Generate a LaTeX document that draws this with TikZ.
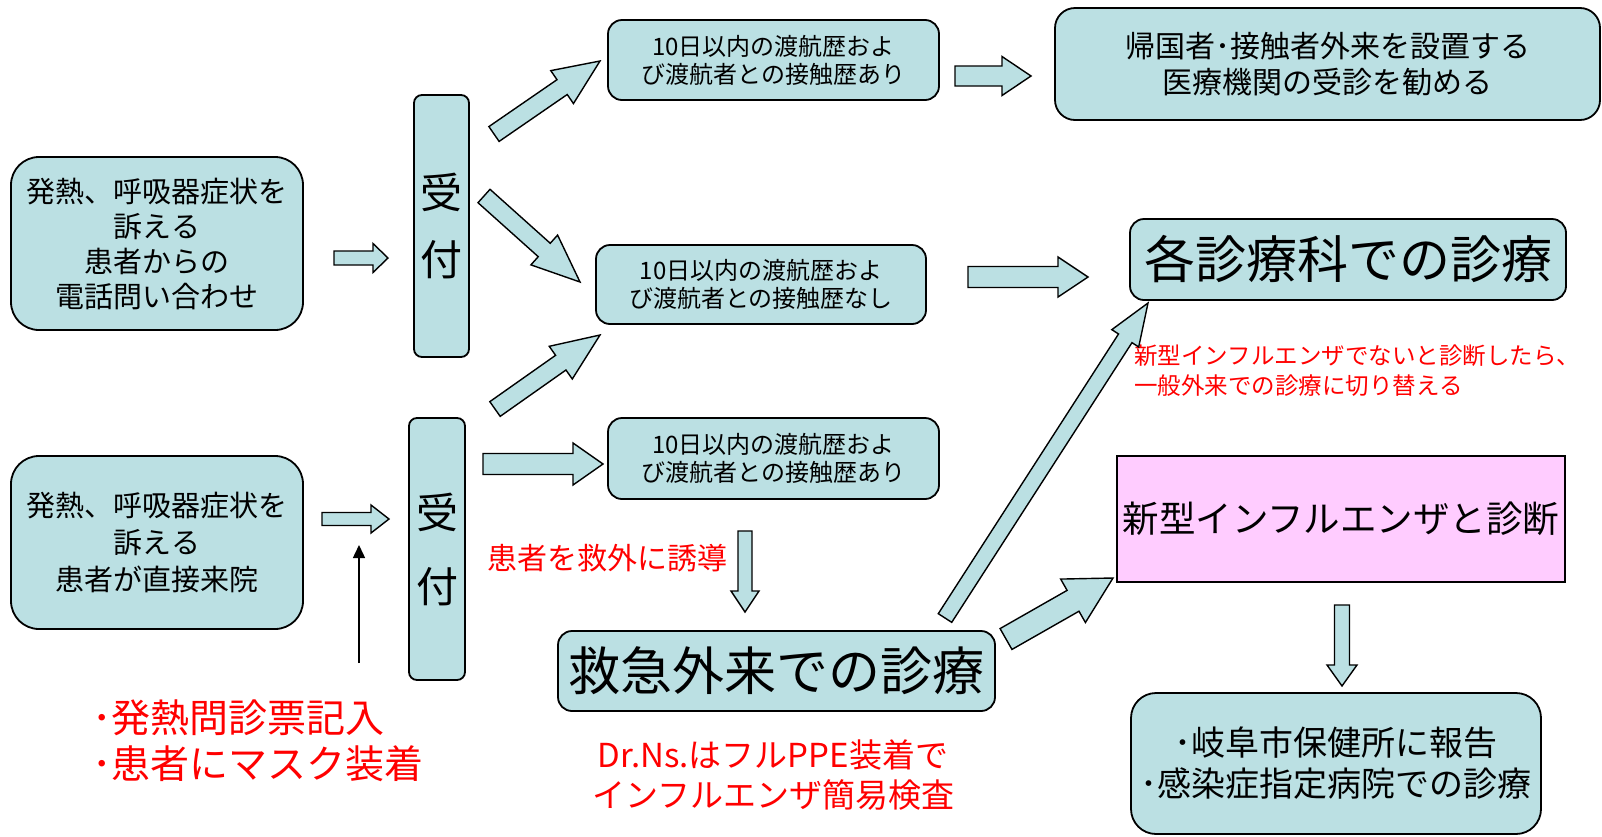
\documentclass[tikz,border=0pt]{standalone}
\usepackage{fontspec}
\setmainfont{Noto Sans CJK JP}
\usetikzlibrary{calc,arrows.meta}
\definecolor{boxblue}{RGB}{187,224,227}
\definecolor{boxpink}{RGB}{255,204,255}
\definecolor{redtxt}{RGB}{255,0,0}
\newcommand\blkarrow[5]{%
  \coordinate (ba-h) at ($(#2)!#5!(#1)$);
  \draw[blk] ($(#1)!#3!90:(#2)$) -- ($(ba-h)!#3!90:(#2)$) -- ($(ba-h)!#4!90:(#2)$) -- (#2) -- ($(ba-h)!#4!-90:(#2)$) -- ($(ba-h)!#3!-90:(#2)$) -- ($(#1)!#3!-90:(#2)$) -- cycle;}
\begin{document}
\begin{tikzpicture}[x=1pt,y=-1pt,
  box/.style={draw=black, line width=1.8pt, fill=boxblue, rounded corners=#1, inner sep=0pt, align=center, text=black},
  box/.default=14pt,
  blk/.style={draw=black, line width=1.4pt, fill=boxblue, line join=miter},
  redlabel/.style={text=redtxt, inner sep=0pt}]
\useasboundingbox (0,0) rectangle (1602,836);

% boxes
\node[box=28pt, minimum width=292pt, minimum height=173pt, font=\fontsize{29}{35}\selectfont] (A) at (157,243.5) {発熱、呼吸器症状を\\訴える\\患者からの\\電話問い合わせ};
\node[box=8pt, minimum width=55pt, minimum height=262pt, font=\fontsize{42}{67}\selectfont] (R1) at (441.5,226) {受\\付};
\node[box=14pt, minimum width=331pt, minimum height=80pt, font=\fontsize{24}{28}\selectfont] (B1) at (773.5,60) {10日以内の渡航歴およ\\び渡航者との接触歴あり};
\node[box=20pt, minimum width=545pt, minimum height=112pt, font=\fontsize{30}{36}\selectfont] (C) at (1327.5,64) {帰国者･接触者外来を設置する\\医療機関の受診を勧める};
\node[box=14pt, minimum width=330pt, minimum height=79pt, font=\fontsize{24}{28}\selectfont] (B2) at (761,284.5) {10日以内の渡航歴およ\\び渡航者との接触歴なし};
\node[box=14pt, minimum width=436pt, minimum height=81pt, font=\fontsize{51}{56}\selectfont] (D) at (1348,259.5) {各診療科での診療};
\node[box=28pt, minimum width=292pt, minimum height=173pt, font=\fontsize{29}{37}\selectfont] (E) at (157,542.5) {発熱、呼吸器症状を\\訴える\\患者が直接来院};
\node[box=8pt, minimum width=56pt, minimum height=262pt, font=\fontsize{42}{74}\selectfont] (R2) at (437,549) {受\\付};
\node[box=14pt, minimum width=331pt, minimum height=81pt, font=\fontsize{24}{28}\selectfont] (B3) at (773.5,458.5) {10日以内の渡航歴およ\\び渡航者との接触歴あり};
\node[box=14pt, minimum width=437pt, minimum height=80pt, font=\fontsize{52}{56}\selectfont] (F) at (776.5,671) {救急外来での診療};
\node[box=0pt, fill=boxpink, minimum width=448pt, minimum height=126pt, font=\fontsize{36.5}{42}\selectfont] (G) at (1341,519) {新型インフルエンザと診断};
\node[box=25pt, minimum width=410pt, minimum height=141pt, font=\fontsize{34}{41}\selectfont] (H) at (1336,763.5) {･岐阜市保健所に報告\\･感染症指定病院での診療};

% red labels
\node[redlabel, anchor=west, align=left, font=\fontsize{23.5}{30}\selectfont] (n1) at (1134,371) {新型インフルエンザでないと診断したら、\\一般外来での診療に切り替える};
\node[redlabel, font=\fontsize{30}{34}\selectfont] (n2) at (607,558) {患者を救外に誘導};
\node[redlabel, anchor=west, align=left, font=\fontsize{39}{46}\selectfont] (n3) at (92,741) {･発熱問診票記入\\･患者にマスク装着};
\node[redlabel, align=center, font=\fontsize{33}{40}\selectfont] (n4) at (773,775) {Dr.Ns.はフルPPE装着で\\インフルエンザ簡易検査};

% arrow end points
\coordinate (a1s) at (334,258);  \coordinate (a1e) at (388,258);
\coordinate (a2s) at (494,134);  \coordinate (a2e) at (600,61);
\coordinate (a3s) at (484,196);  \coordinate (a3e) at (580,282);
\coordinate (a4s) at (495,409);  \coordinate (a4e) at (600,335);
\coordinate (a5s) at (955,76);   \coordinate (a5e) at (1031,76);
\coordinate (a6s) at (968,277);  \coordinate (a6e) at (1088,277);
\coordinate (a7s) at (322,519);  \coordinate (a7e) at (389,519);
\coordinate (a8s) at (483,464);  \coordinate (a8e) at (603,464);
\coordinate (a9s) at (745,531);  \coordinate (a9e) at (745,612);
\coordinate (a10s) at (945,618); \coordinate (a10e) at (1148,303);
\coordinate (a11s) at (1006,639); \coordinate (a11e) at (1113,578);
\coordinate (a12s) at (1342,605); \coordinate (a12e) at (1342,686);
\coordinate (t1) at (359,663);   \coordinate (t2) at (359,545);

% block arrows
\blkarrow{a1s}{a1e}{7pt}{14.5pt}{15pt}
\blkarrow{a2s}{a2e}{9pt}{20pt}{46pt}
\blkarrow{a3s}{a3e}{9pt}{20pt}{48pt}
\blkarrow{a4s}{a4e}{9pt}{20pt}{48pt}
\blkarrow{a5s}{a5e}{10pt}{19.5pt}{29pt}
\blkarrow{a6s}{a6e}{10.5pt}{20pt}{30pt}
\blkarrow{a7s}{a7e}{6.5pt}{14pt}{18pt}
\blkarrow{a8s}{a8e}{10.5pt}{21pt}{30pt}
\blkarrow{a9s}{a9e}{7pt}{14pt}{21pt}
\blkarrow{a10s}{a10e}{8pt}{16pt}{42pt}
\blkarrow{a11s}{a11e}{12pt}{25pt}{46pt}
\blkarrow{a12s}{a12e}{7.5pt}{15pt}{21pt}

% thin arrow
\draw[line width=1.5pt, -{Triangle[length=13pt,width=12pt]}] (t1) -- (t2);
\end{tikzpicture}
\end{document}
